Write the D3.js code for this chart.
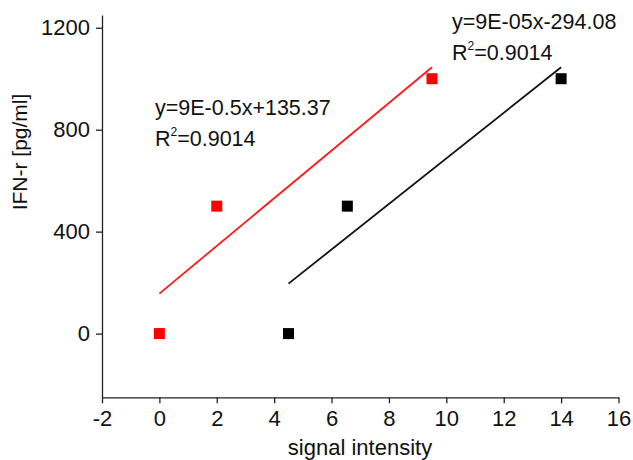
<!DOCTYPE html>
<html>
<head>
<meta charset="utf-8">
<script src="https://cdn.jsdelivr.net/npm/d3@7"></script>
<style>
  html, body { margin: 0; padding: 0; background: #fff; }
  svg { display: block; font-family: Arial, "Liberation Sans", sans-serif; }
</style>
</head>
<body>
<svg id="chart" width="633" height="460"></svg>
<script>
// ---- data ----
const xTicks = [-2, 0, 2, 4, 6, 8, 10, 12, 14, 16];
const yTicks = [0, 400, 800, 1200];
const redX = [0, 2, 9.5];
const redY = [0, 500, 1000];
const blackX = [4.5, 6.55, 14];
const blackY = [0, 500, 1000];
const redFitX = [0, 9.5];
const redFitY = [157, 1045];
const blackFitX = [4.5, 14];
const blackFitY = [196, 1045];
const redEq = "y=9E-0.5x+135.37";
const blackEq = "y=9E-05x-294.08";
const r2Value = "=0.9014";
const xTitle = "signal intensity";
const yTitle = "IFN-r [pg/ml]";

const svg = d3.select("#chart");
const x = d3.scaleLinear().domain([-2, 16]).range([102, 618.5]);
const y = d3.scaleLinear().domain([-250, 1250]).range([397.3, 15]);

const fontSize = 22;
const fmt = d => String(d);

// axes
const xAxis = svg.append("g").attr("transform", `translate(0,${y(-250)})`)
  .call(d3.axisBottom(x).tickValues(xTicks).tickFormat(fmt).tickSize(6).tickSizeOuter(0).tickPadding(7));
const yAxis = svg.append("g").attr("transform", `translate(${x(-2)},0)`)
  .call(d3.axisLeft(y).tickValues(yTicks).tickFormat(fmt).tickSize(6).tickSizeOuter(0).tickPadding(6));
[xAxis, yAxis].forEach(g => {
  g.selectAll("path, line").attr("stroke", "#222").attr("stroke-width", 1.3);
  g.selectAll("text").attr("fill", "#111").style("font-size", fontSize + "px")
    .style("font-family", "Arial, 'Liberation Sans', sans-serif");
});

// axis titles
svg.append("text").attr("x", 360).attr("y", 455).attr("text-anchor", "middle")
  .style("font-size", "22px").attr("fill", "#111").text(xTitle);
svg.append("text").attr("transform", "translate(27,152) rotate(-90)").attr("text-anchor", "middle")
  .style("font-size", "21px").attr("fill", "#111").text(yTitle);

// fit lines
const line = d3.line().x(d => x(d[0])).y(d => y(d[1]));
svg.append("path").datum(redFitX.map((v, i) => [v, redFitY[i]]))
  .attr("d", line).attr("fill", "none").attr("stroke", "#ff1a1a").attr("stroke-width", 1.8);
svg.append("path").datum(blackFitX.map((v, i) => [v, blackFitY[i]]))
  .attr("d", line).attr("fill", "none").attr("stroke", "#111").attr("stroke-width", 1.8);

// markers
const sz = 11;
svg.selectAll(".red").data(redX.map((v, i) => [v, redY[i]])).enter().append("rect")
  .attr("x", d => x(d[0]) - sz / 2).attr("y", d => y(d[1]) - sz / 2)
  .attr("width", sz).attr("height", sz).attr("fill", "#ff0000");
svg.selectAll(".blk").data(blackX.map((v, i) => [v, blackY[i]])).enter().append("rect")
  .attr("x", d => x(d[0]) - sz / 2).attr("y", d => y(d[1]) - sz / 2)
  .attr("width", sz).attr("height", sz).attr("fill", "#000");

// equations
function eq(xp, yp, txt) {
  svg.append("text").attr("x", xp).attr("y", yp).style("font-size", "21.5px").attr("fill", "#111").text(txt);
  const t = svg.append("text").attr("x", xp).attr("y", yp + 31).style("font-size", "21.5px").attr("fill", "#111");
  t.append("tspan").text("R");
  t.append("tspan").attr("dy", -10).style("font-size", "12px").text("2");
  t.append("tspan").attr("dy", 10).text(r2Value);
}
eq(155, 115, redEq);
eq(452, 29, blackEq);
</script>
</body>
</html>
